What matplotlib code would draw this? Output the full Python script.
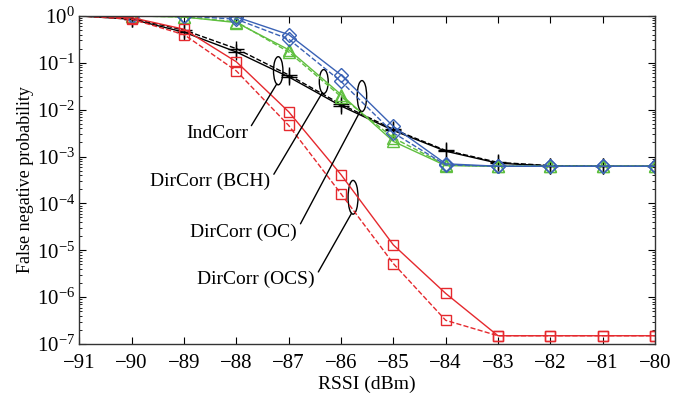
import numpy as np
import matplotlib
matplotlib.use('Agg')
import matplotlib.pyplot as plt
from matplotlib.patches import Ellipse
from matplotlib.ticker import FixedLocator, LogFormatterMathtext, NullFormatter

plt.rcParams['font.family'] = ['Liberation Serif', 'DejaVu Serif']
plt.rcParams['mathtext.fontset'] = 'stix'

# RSSI (dBm); lines start at -91 with no marker
rssi = [-91, -90, -89, -88, -87, -86, -85, -84, -83, -82, -81, -80]

ind_solid  = [1.0, 0.85, 0.45, 0.17, 0.05, 0.012, 3.6e-3, 1.3e-3, 7.2e-4, 6.3e-4, 6.2e-4, 6.2e-4]
ind_dash   = [1.0, 0.88, 0.50, 0.20, 0.055, 0.013, 3.8e-3, 1.35e-3, 7.5e-4, 6.4e-4, 6.2e-4, 6.2e-4]
bch_solid  = [1.0, 1.0, 0.95, 0.72, 0.19, 0.021, 2.1e-3, 6.4e-4, 6.2e-4, 6.2e-4, 6.2e-4, 6.2e-4]
bch_dash   = [1.0, 1.0, 0.95, 0.75, 0.17, 0.019, 2.5e-3, 6.6e-4, 6.2e-4, 6.2e-4, 6.2e-4, 6.2e-4]
oc_solid   = [1.0, 1.0, 1.0, 0.95, 0.40, 0.055, 4.4e-3, 7.0e-4, 6.2e-4, 6.2e-4, 6.2e-4, 6.2e-4]
oc_dash    = [1.0, 1.0, 1.0, 0.85, 0.32, 0.040, 3.2e-3, 6.6e-4, 6.2e-4, 6.2e-4, 6.2e-4, 6.2e-4]
ocs_solid  = [1.0, 0.92, 0.52, 0.105, 9.0e-3, 4.1e-4, 1.3e-5, 1.2e-6, 1.5e-7, 1.5e-7, 1.5e-7, 1.5e-7]
ocs_dash   = [1.0, 0.85, 0.40, 0.067, 4.6e-3, 1.6e-4, 5.2e-6, 3.2e-7, 1.5e-7, 1.5e-7, 1.5e-7, 1.5e-7]

RED   = '#e5292e'
GREEN = '#5fbf3f'
BLUE  = '#3a62b5'

# callouts: label, text anchor (x, log10 y), ellipse centre (x, log10 y), width (dBm), height (decades)
callouts = [
    ('IndCorr',        (-87.78, -2.50), (-87.20, -1.17), 0.18, 0.60),
    ('DirCorr (BCH)',  (-87.35, -3.54), (-86.33, -1.40), 0.17, 0.51),
    ('DirCorr (OC)',   (-86.84, -4.61), (-85.60, -1.71), 0.18, 0.66),
    ('DirCorr (OCS)',  (-86.50, -5.63), (-85.77, -3.87), 0.19, 0.72),
]

fig = plt.figure(figsize=(6.86, 3.98), dpi=100)
ax = fig.add_axes([0.1157, 0.1357, 0.8391, 0.8243])

mk = dict(markevery=slice(1, None), markerfacecolor='none')
ax.plot(rssi, ind_dash,  '--', color='black', lw=1.0, marker='+', ms=11, mew=1.0, **mk)
ax.plot(rssi, ind_solid, '-',  color='black', lw=1.0, marker='+', ms=11, mew=1.0, **mk)
ax.plot(rssi, bch_dash,  '--', color=GREEN, lw=1.0, marker='^', ms=9, mew=1.0, **mk)
ax.plot(rssi, bch_solid, '-',  color=GREEN, lw=1.0, marker='^', ms=9, mew=1.0, **mk)
ax.plot(rssi, oc_dash,   '--', color=BLUE, lw=1.0, marker='D', ms=7.5, mew=1.0, **mk)
ax.plot(rssi, oc_solid,  '-',  color=BLUE, lw=1.0, marker='D', ms=7.5, mew=1.0, **mk)
ax.plot(rssi, ocs_dash,  '--', color=RED, lw=1.0, marker='s', ms=7.5, mew=1.0, **mk)
ax.plot(rssi, ocs_solid, '-',  color=RED, lw=1.0, marker='s', ms=7.5, mew=1.0, **mk)

xmin, xmax = -91, -80
ymin_log, ymax_log = -7, 0
ax.set_xlim(xmin, xmax)
ax.set_yscale('log')
ax.set_ylim(10.0**ymin_log, 10.0**ymax_log)
ax.set_xticks(range(-91, -79))
ax.yaxis.set_major_locator(FixedLocator([10.0**k for k in range(ymin_log, ymax_log + 1)]))
ax.yaxis.set_major_formatter(LogFormatterMathtext())
ax.yaxis.set_minor_locator(FixedLocator([m * 10.0**k for k in range(ymin_log, ymax_log)
                                         for m in range(2, 10)]))
ax.yaxis.set_minor_formatter(NullFormatter())
ax.tick_params(which='both', direction='in', top=True, right=True, labelsize=15)
ax.tick_params(which='major', length=5)
ax.tick_params(which='minor', length=2.5)
ax.tick_params(axis='x', pad=7)
ax.tick_params(axis='y', pad=3)
for sp in ax.spines.values():
    sp.set_linewidth(1.0)
    sp.set_color('#333333')

ax.set_xlabel('RSSI (dBm)', fontsize=14, labelpad=2)
ax.set_ylabel('False negative probability', fontsize=13, labelpad=2)

def to_axes(x, ylog):
    return ((x - xmin) / (xmax - xmin), (ylog - ymin_log) / (ymax_log - ymin_log))

for label, (tx, tlog), (ex, elog), w, h in callouts:
    cx, cy = to_axes(ex, elog)
    ax.add_patch(Ellipse((cx, cy), w / (xmax - xmin), h / (ymax_log - ymin_log),
                         transform=ax.transAxes, fill=False, ec='black', lw=1.0))
    ax.annotate(label, xy=(ex - w * 0.15, 10.0**(elog - h / 2 + 0.02)),
                xytext=(tx, 10.0**tlog), ha='right', va='center', fontsize=14,
                arrowprops=dict(arrowstyle='-', color='black', lw=1.0,
                                relpos=(1.0, 0.6), shrinkA=1, shrinkB=0))

fig.savefig('out.png', dpi=100)
